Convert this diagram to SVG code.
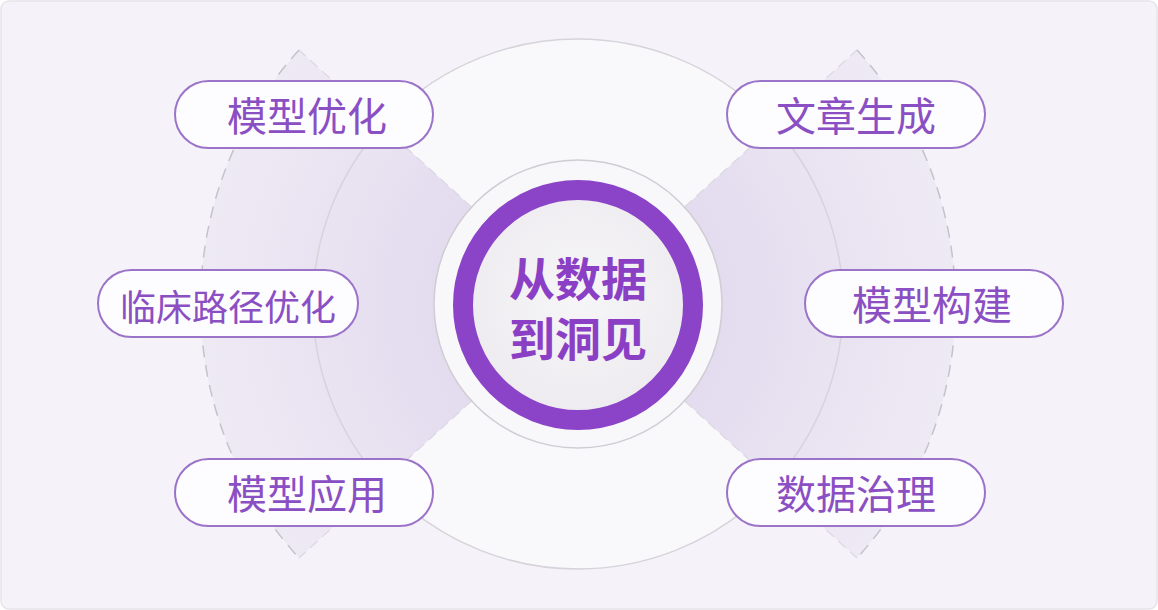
<svg xmlns="http://www.w3.org/2000/svg" width="1158" height="610" viewBox="0 0 1158 610">
  <defs>
    <radialGradient id="sectorGrad" cx="578" cy="304" r="377" gradientUnits="userSpaceOnUse">
      <stop offset="0.3" stop-color="#e2d9ee"/>
      <stop offset="0.65" stop-color="#e8e2f1"/>
      <stop offset="1" stop-color="#eeeaf4"/>
    </radialGradient>
    <radialGradient id="coreGrad" cx="0.5" cy="0.45" r="0.6">
      <stop offset="0" stop-color="#f6f5f7"/>
      <stop offset="1" stop-color="#eceaee"/>
    </radialGradient>
    <style>
      .pill { fill: #fdfcfe; stroke: #9b73c9; stroke-width: 2; }
      .lbl { font-family: "Noto Sans CJK SC", "Noto Sans", sans-serif; fill: #8a4fc3; text-anchor: middle; dominant-baseline: central; }
      .sector { fill: url(#sectorGrad); }
      .arc { fill: none; stroke: #c6c2cc; stroke-width: 1.5; stroke-dasharray: 12 8; }
      .edge { fill: none; stroke: #dcd7e2; stroke-width: 1.2; stroke-dasharray: 10 6; }
      .thin { fill: none; stroke: #d6d3da; stroke-width: 1.5; }
      .core-t { font-family: "Noto Sans CJK SC", "Noto Sans", sans-serif; fill: #8b3fc4; text-anchor: middle; dominant-baseline: central; font-size: 46px; font-weight: bold; }
    </style>
  </defs>

  <rect x="1" y="1" width="1156" height="608" rx="8" fill="#f5f3f9" stroke="#e6e4e9" stroke-width="1.5"/>

  <circle cx="578" cy="304" r="265" fill="#f9f8fb"/>

  <path class="sector" d="M578 304 L299 50 A377 377 0 0 0 299 558 Z"/>
  <path class="sector" d="M578 304 L857 50 A377 377 0 0 1 857 558 Z"/>
  <path class="edge" d="M578 304 L299 50 M578 304 L299 558 M578 304 L857 50 M578 304 L857 558"/>
  <path class="arc" d="M299 50 A377 377 0 0 0 299 558"/>
  <path class="arc" d="M857 50 A377 377 0 0 1 857 558"/>

  <circle class="thin" cx="578" cy="304" r="265"/>

  <g id="core">
    <circle cx="578" cy="304" r="144" fill="#f8f7f9" stroke="#cfccd3" stroke-width="1.5"/>
    <circle cx="578" cy="305" r="115" fill="url(#coreGrad)" stroke="#8b44c8" stroke-width="20"/>
    <text class="core-t" x="578" y="276">从数据</text>
    <text class="core-t" x="578" y="336">到洞见</text>
  </g>

  <g id="connectors"></g>

  <g id="n-model-opt">
    <rect class="pill" x="175" y="81" width="258" height="67" rx="33.5"/>
    <text class="lbl" x="307" y="114" font-size="40">模型优化</text>
  </g>
  <g id="n-clinical">
    <rect class="pill" x="98" y="270" width="260" height="67" rx="33.5"/>
    <text class="lbl" x="228" y="305" font-size="36">临床路径优化</text>
  </g>
  <g id="n-model-app">
    <rect class="pill" x="175" y="459" width="258" height="67" rx="33.5"/>
    <text class="lbl" x="307" y="492" font-size="40">模型应用</text>
  </g>
  <g id="n-article">
    <rect class="pill" x="727" y="81" width="258" height="67" rx="33.5"/>
    <text class="lbl" x="856" y="114" font-size="40">文章生成</text>
  </g>
  <g id="n-model-build">
    <rect class="pill" x="805" y="270" width="258" height="67" rx="33.5"/>
    <text class="lbl" x="932" y="303" font-size="40">模型构建</text>
  </g>
  <g id="n-data-gov">
    <rect class="pill" x="727" y="459" width="258" height="67" rx="33.5"/>
    <text class="lbl" x="856" y="492" font-size="40">数据治理</text>
  </g>
</svg>
